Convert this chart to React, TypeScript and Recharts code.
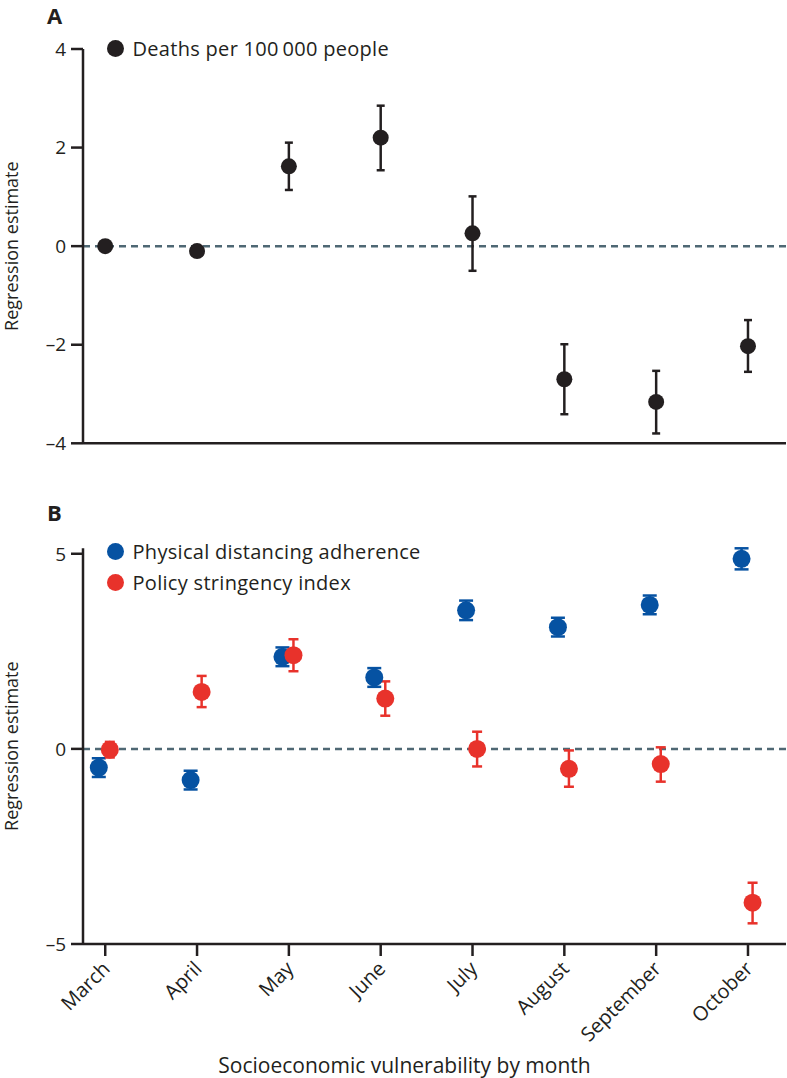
import React from 'react';
import { ScatterChart, Scatter, XAxis, YAxis, ErrorBar, ReferenceLine, Legend } from 'recharts';

const months = ['March', 'April', 'May', 'June', 'July', 'August', 'September', 'October'];
const monthTicks = [0, 1, 2, 3, 4, 5, 6, 7];

// panel A
const deaths = [0, -0.1, 1.62, 2.2, 0.26, -2.7, -3.16, -2.03];
const deathsLow = [0, -0.14, 1.14, 1.54, -0.5, -3.41, -3.8, -2.55];
const deathsHigh = [0, -0.06, 2.1, 2.85, 1.01, -1.99, -2.53, -1.5];
const ticksA = [-4, -2, 0, 2, 4];

// panel B
const distancing = [-0.48, -0.8, 2.36, 1.83, 3.55, 3.12, 3.69, 4.87];
const distancingLow = [-0.72, -1.04, 2.12, 1.59, 3.3, 2.88, 3.45, 4.6];
const distancingHigh = [-0.24, -0.56, 2.6, 2.07, 3.8, 3.36, 3.93, 5.14];
const stringency = [-0.02, 1.46, 2.4, 1.29, 0, -0.51, -0.39, -3.94];
const stringencyLow = [-0.22, 1.07, 1.99, 0.85, -0.45, -0.97, -0.84, -4.47];
const stringencyHigh = [0.18, 1.87, 2.81, 1.73, 0.44, -0.04, 0.04, -3.43];
const ticksB = [-5, 0, 5];

const INK = '#231f20';
const BLUE = '#0652a2';
const RED = '#e8322b';
const DASH = '#4f6874';
const FONT = '"Open Sans", sans-serif';

const build = (vals: number[], lo: number[], hi: number[], shift: number) =>
  vals.map((v, i) => ({ x: i + shift, y: v, err: [v - lo[i], hi[i] - v] }));

const dataA = build(deaths, deathsLow, deathsHigh, 0);
const dataBlue = build(distancing, distancingLow, distancingHigh, -0.07);
const dataRed = build(stringency, stringencyLow, stringencyHigh, 0.05);

const fmt = (v: number) => (v < 0 ? `\u2013${-v}` : `${v}`);

const dot = (r: number, color: string) => (p: any) => <circle cx={p.cx} cy={p.cy} r={r} fill={color} />;

const LegendList = ({ items }: { items: { label: string; color: string }[] }) => (
  <div style={{ display: 'flex', flexDirection: 'column', fontFamily: FONT }}>
    {items.map((it) => (
      <div key={it.label} style={{ display: 'flex', alignItems: 'center', height: 31 }}>
        <span style={{ width: 17, height: 17, borderRadius: '50%', background: it.color, marginRight: 9, flex: 'none' }} />
        <span style={{ fontSize: 20, color: INK, whiteSpace: 'nowrap', letterSpacing: 0.3 }}>{it.label}</span>
      </div>
    ))}
  </div>
);

const YTitle = (p: any) => {
  const vb = p.viewBox;
  const cy = vb.y + vb.height / 2;
  const x = vb.x + 18.5;
  return (
    <text x={x} y={cy} transform={`rotate(-90, ${x}, ${cy})`} textAnchor="middle" fill={INK} fontSize={18} fontFamily={FONT}>
      Regression estimate
    </text>
  );
};

const XTitle = (p: any) => {
  const vb = p.viewBox;
  return (
    <text x={vb.x + vb.width / 2 - 30} y={vb.y + 129} textAnchor="middle" fill={INK} fontSize={21} fontFamily={FONT}>
      Socioeconomic vulnerability by month
    </text>
  );
};

const MonthTick = (p: any) => (
  <text
    transform={`translate(${p.x + 6},${p.y + 12}) rotate(-45)`}
    textAnchor="end"
    fill={INK}
    fontSize={20}
    fontFamily={FONT}
  >
    {months[p.payload.value]}
  </text>
);

const axisStyle = { stroke: INK, strokeWidth: 2.5 };
const xDomain: [number, number] = [-0.242, 7.414];
const panelLabel = { position: 'absolute' as const, left: 47, fontSize: 22, lineHeight: 'normal', fontWeight: 700, color: INK };

export default function App() {
  return (
    <div style={{ position: 'absolute', left: 0, top: 0, width: 787, height: 1078, background: '#fff', fontFamily: FONT }}>
      <div style={{ ...panelLabel, top: 0 }}>A</div>
      <div style={{ ...panelLabel, top: 497 }}>B</div>

      <div style={{ position: 'absolute', left: 0, top: 0 }}>
        <ScatterChart width={787} height={480} margin={{ top: 49, right: 1, bottom: 6.7, left: 0 }}>
          <XAxis
            type="number"
            dataKey="x"
            domain={xDomain}
            ticks={monthTicks}
            allowDataOverflow
            tick={false}
            tickSize={12}
            height={30}
            axisLine={axisStyle}
            tickLine={axisStyle}
          />
          <YAxis
            type="number"
            dataKey="y"
            domain={[-4, 4]}
            ticks={ticksA}
            tickFormatter={fmt}
            width={83}
            tickSize={12}
            tickMargin={5}
            axisLine={axisStyle}
            tickLine={axisStyle}
            tick={{ fill: INK, fontSize: 19, fontFamily: FONT }}
            label={{ content: YTitle }}
          />
          <ReferenceLine y={0} stroke={DASH} strokeWidth={2.5} strokeDasharray="7 5" />
          <Legend
            layout="vertical"
            align="center"
            verticalAlign="middle"
            wrapperStyle={{ top: 32.8, left: 106.5, width: 'auto' }}
            content={() => <LegendList items={[{ label: 'Deaths per 100\u2009000 people', color: INK }]} />}
          />
          <Scatter name="Deaths per 100 000 people" data={dataA} fill={INK} shape={dot(8, INK)} isAnimationActive={false}>
            <ErrorBar dataKey="err" direction="y" width={4} stroke={INK} strokeWidth={2.5} />
          </Scatter>
        </ScatterChart>
      </div>

      <div style={{ position: 'absolute', left: 0, top: 500 }}>
        <ScatterChart width={787} height={578} margin={{ top: 48.3, right: 1, bottom: 4, left: 0 }}>
          <XAxis
            type="number"
            dataKey="x"
            domain={xDomain}
            ticks={monthTicks}
            allowDataOverflow
            tick={MonthTick}
            tickSize={12}
            height={130}
            axisLine={axisStyle}
            tickLine={axisStyle}
            label={{ content: XTitle }}
          />
          <YAxis
            type="number"
            dataKey="y"
            domain={[-5, 5]}
            ticks={ticksB}
            tickFormatter={fmt}
            width={83}
            tickSize={12}
            tickMargin={5}
            axisLine={axisStyle}
            tickLine={axisStyle}
            tick={{ fill: INK, fontSize: 19, fontFamily: FONT }}
            label={{ content: YTitle }}
          />
          <ReferenceLine y={0} stroke={DASH} strokeWidth={2.5} strokeDasharray="7 5" />
          <Legend
            layout="vertical"
            align="center"
            verticalAlign="middle"
            wrapperStyle={{ top: 36.2, left: 106.5, width: 'auto' }}
            content={() => (
              <LegendList
                items={[
                  { label: 'Physical distancing adherence', color: BLUE },
                  { label: 'Policy stringency index', color: RED },
                ]}
              />
            )}
          />
          <Scatter name="Physical distancing adherence" data={dataBlue} fill={BLUE} shape={dot(9, BLUE)} isAnimationActive={false}>
            <ErrorBar dataKey="err" direction="y" width={7} stroke={BLUE} strokeWidth={2.5} />
          </Scatter>
          <Scatter name="Policy stringency index" data={dataRed} fill={RED} shape={dot(9, RED)} isAnimationActive={false}>
            <ErrorBar dataKey="err" direction="y" width={5} stroke={RED} strokeWidth={2.5} />
          </Scatter>
        </ScatterChart>
      </div>
    </div>
  );
}
